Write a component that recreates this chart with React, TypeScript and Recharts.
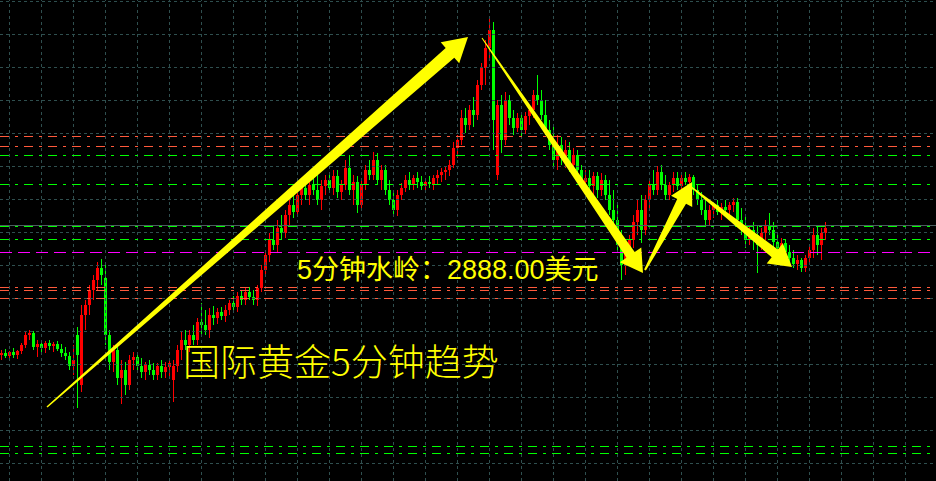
import { ComposedChart, XAxis, YAxis, Bar, ReferenceLine, ReferenceDot } from "recharts";

// 5-minute gold candles (one entry every 4px)
const opens = [
  2877.7, 2877.9, 2877.6, 2878.0, 2877.7, 2878.1, 2878.7, 2879.7, 2879.9, 2878.5,
  2878.8, 2878.4, 2878.9, 2878.6, 2878.8, 2878.3, 2877.9, 2877.6, 2876.6, 2879.7,
  2874.7, 2881.7, 2882.7, 2884.2, 2885.2, 2886.4, 2885.4, 2879.7, 2877.0, 2878.2,
  2875.4, 2876.2, 2874.7, 2877.2, 2877.5, 2876.6, 2876.0, 2876.7, 2876.2, 2875.7,
  2876.6, 2876.0, 2876.5, 2875.2, 2876.6, 2878.2, 2879.2, 2878.7, 2879.7, 2879.2,
  2881.0, 2880.7, 2880.2, 2881.7, 2881.4, 2882.0, 2881.6, 2882.2, 2882.9, 2882.5,
  2883.6, 2883.2, 2884.0, 2883.5, 2883.2, 2884.4, 2886.2, 2887.7, 2889.2, 2888.7,
  2890.4, 2889.9, 2891.7, 2892.7, 2892.0, 2893.7, 2894.4, 2893.7, 2894.7, 2894.2,
  2893.2, 2894.6, 2895.2, 2894.4, 2895.6, 2894.0, 2894.7, 2896.4, 2894.2, 2895.0,
  2892.7, 2894.7, 2896.2, 2895.7, 2897.2, 2895.2, 2896.2, 2894.2, 2893.2, 2892.2,
  2893.7, 2894.4, 2895.2, 2894.7, 2895.4, 2895.0, 2894.6, 2895.0, 2894.8, 2895.4,
  2895.7, 2896.0, 2896.2, 2896.7, 2898.4, 2899.2, 2901.4, 2900.7, 2902.2, 2901.7,
  2904.7, 2906.4, 2908.4, 2910.2, 2895.7, 2902.7, 2899.2, 2903.2, 2901.4, 2900.4,
  2901.4, 2900.2, 2901.6, 2902.2, 2903.7, 2903.2, 2901.7, 2900.2, 2898.7, 2897.2,
  2898.7, 2897.4, 2898.2, 2896.7, 2897.7, 2896.2, 2895.0, 2895.4, 2894.6, 2895.6,
  2894.2, 2895.2, 2893.7, 2892.2, 2891.2, 2888.7, 2886.7, 2888.2, 2889.2, 2891.0,
  2892.2, 2890.2, 2893.2, 2894.7, 2894.2, 2896.0, 2894.7, 2893.7, 2894.7, 2895.4,
  2894.6, 2895.4, 2895.0, 2895.5, 2894.2, 2893.2, 2892.2, 2891.2, 2892.2, 2892.7,
  2892.0, 2892.5, 2892.2, 2892.7, 2893.0, 2891.2, 2890.2, 2889.2, 2890.2, 2889.7,
  2888.7, 2889.9, 2890.7, 2890.2, 2889.0, 2888.4, 2888.9, 2888.0, 2887.4, 2886.8,
  2887.2, 2886.4, 2887.4, 2888.2, 2889.7, 2888.7, 2889.9,
];
const highs = [
  2878.2, 2878.3, 2878.1, 2878.4, 2878.2, 2878.9, 2880.0, 2880.2, 2880.1, 2879.2,
  2879.2, 2879.1, 2879.2, 2879.0, 2879.1, 2878.8, 2878.5, 2878.0, 2878.7, 2880.5,
  2882.7, 2883.2, 2884.7, 2885.7, 2887.0, 2887.3, 2886.7, 2880.2, 2878.7, 2878.7,
  2877.2, 2877.0, 2877.7, 2878.0, 2877.9, 2877.4, 2877.0, 2877.2, 2876.9, 2876.9,
  2877.2, 2877.0, 2877.2, 2877.2, 2878.7, 2880.0, 2880.2, 2880.2, 2880.7, 2881.4,
  2882.9, 2882.2, 2882.4, 2882.6, 2882.4, 2882.5, 2882.7, 2883.2, 2883.6, 2884.0,
  2884.2, 2884.4, 2884.5, 2884.2, 2884.7, 2886.7, 2888.2, 2889.9, 2890.7, 2891.2,
  2891.7, 2892.2, 2893.2, 2893.7, 2894.2, 2895.2, 2895.4, 2895.2, 2895.7, 2896.0,
  2895.2, 2895.7, 2896.0, 2896.2, 2896.2, 2895.2, 2897.2, 2897.7, 2895.7, 2895.6,
  2895.2, 2896.7, 2897.2, 2898.0, 2897.9, 2896.7, 2896.7, 2895.2, 2894.2, 2894.2,
  2894.9, 2895.7, 2896.0, 2895.7, 2896.0, 2895.6, 2895.4, 2895.6, 2895.7, 2896.2,
  2896.4, 2896.6, 2897.2, 2899.0, 2899.7, 2902.2, 2902.4, 2902.7, 2903.5, 2905.2,
  2906.9, 2909.2, 2911.4, 2911.0, 2903.2, 2903.7, 2904.0, 2903.7, 2902.2, 2901.9,
  2902.0, 2902.0, 2902.7, 2904.2, 2905.7, 2904.2, 2903.2, 2901.2, 2900.7, 2899.7,
  2899.5, 2899.2, 2899.0, 2898.4, 2898.2, 2896.7, 2896.2, 2896.2, 2896.0, 2896.0,
  2895.9, 2895.7, 2895.2, 2894.2, 2892.7, 2890.2, 2889.2, 2889.7, 2891.7, 2893.2,
  2893.7, 2893.7, 2895.2, 2896.2, 2896.6, 2896.7, 2895.7, 2895.0, 2896.0, 2896.0,
  2895.8, 2896.0, 2895.8, 2895.7, 2894.7, 2894.0, 2893.4, 2892.7, 2893.0, 2893.2,
  2892.9, 2893.2, 2893.0, 2893.4, 2893.4, 2892.4, 2891.7, 2890.7, 2891.0, 2890.7,
  2890.4, 2891.2, 2891.9, 2891.0, 2890.0, 2889.4, 2889.2, 2888.7, 2888.2, 2887.7,
  2887.4, 2887.7, 2888.7, 2890.4, 2890.7, 2890.4, 2891.0,
];
const lows = [
  2877.2, 2877.4, 2877.1, 2877.4, 2877.3, 2877.8, 2878.4, 2879.2, 2878.2, 2877.5,
  2878.0, 2877.9, 2878.2, 2878.0, 2878.1, 2877.5, 2877.2, 2876.2, 2875.7, 2872.4,
  2874.0, 2880.2, 2881.7, 2883.2, 2884.2, 2884.7, 2878.7, 2876.2, 2876.0, 2874.7,
  2872.8, 2873.7, 2874.2, 2876.2, 2876.0, 2875.4, 2875.2, 2875.7, 2875.2, 2875.2,
  2875.4, 2875.4, 2875.6, 2873.0, 2876.0, 2877.2, 2878.2, 2878.0, 2878.7, 2878.7,
  2879.7, 2879.7, 2879.4, 2880.7, 2880.8, 2881.2, 2881.0, 2881.7, 2882.0, 2882.0,
  2882.7, 2882.7, 2883.2, 2882.7, 2882.6, 2884.0, 2885.7, 2887.0, 2888.2, 2888.0,
  2889.2, 2889.4, 2890.7, 2891.4, 2891.6, 2892.7, 2893.2, 2892.7, 2893.7, 2892.7,
  2892.2, 2893.7, 2894.0, 2893.7, 2893.4, 2893.2, 2894.2, 2893.7, 2892.7, 2891.9,
  2892.4, 2894.2, 2895.2, 2895.2, 2894.7, 2894.2, 2893.7, 2892.7, 2891.7, 2891.6,
  2893.2, 2894.0, 2894.2, 2894.2, 2894.4, 2894.2, 2894.0, 2894.4, 2894.2, 2894.7,
  2895.0, 2895.2, 2895.6, 2896.4, 2897.4, 2898.7, 2899.9, 2900.2, 2900.5, 2901.2,
  2904.2, 2904.7, 2907.2, 2898.2, 2895.2, 2897.9, 2898.7, 2900.7, 2899.7, 2900.0,
  2899.5, 2899.8, 2900.7, 2901.4, 2902.7, 2901.2, 2899.7, 2898.2, 2896.5, 2896.2,
  2896.7, 2896.4, 2896.0, 2895.9, 2895.7, 2894.4, 2893.9, 2894.0, 2893.7, 2893.4,
  2893.6, 2893.2, 2891.7, 2890.5, 2888.2, 2885.2, 2885.7, 2887.0, 2888.4, 2889.7,
  2888.9, 2889.7, 2892.2, 2893.7, 2893.7, 2894.2, 2893.2, 2893.2, 2894.0, 2894.2,
  2894.2, 2894.7, 2894.4, 2893.7, 2892.7, 2891.7, 2890.5, 2890.7, 2891.4, 2891.7,
  2891.2, 2891.7, 2891.4, 2892.0, 2890.7, 2889.7, 2888.4, 2888.7, 2888.2, 2885.9,
  2888.2, 2889.2, 2889.7, 2888.4, 2888.0, 2887.7, 2887.4, 2887.0, 2886.4, 2886.2,
  2886.0, 2886.0, 2887.0, 2887.4, 2887.7, 2887.2, 2889.2,
];
const closes = [
  2877.9, 2877.6, 2878.0, 2877.7, 2878.1, 2878.7, 2879.7, 2879.9, 2878.5, 2878.8,
  2878.4, 2878.9, 2878.6, 2878.8, 2878.3, 2877.9, 2877.6, 2876.6, 2877.2, 2877.7,
  2881.7, 2882.7, 2884.2, 2885.2, 2886.4, 2885.7, 2879.7, 2877.0, 2878.2, 2875.4,
  2876.2, 2874.7, 2877.2, 2877.5, 2876.6, 2876.0, 2876.7, 2876.2, 2875.7, 2876.6,
  2876.0, 2876.5, 2876.9, 2876.6, 2878.2, 2879.2, 2878.7, 2879.7, 2879.2, 2881.0,
  2880.7, 2880.2, 2881.7, 2881.4, 2882.0, 2881.6, 2882.2, 2882.9, 2882.5, 2883.6,
  2883.2, 2884.0, 2883.5, 2883.2, 2884.4, 2886.2, 2887.7, 2889.2, 2888.7, 2890.4,
  2889.9, 2891.7, 2892.7, 2892.0, 2893.7, 2894.4, 2893.7, 2894.7, 2894.2, 2893.2,
  2894.6, 2895.2, 2894.4, 2895.6, 2894.0, 2894.7, 2896.4, 2894.2, 2895.0, 2892.7,
  2894.7, 2896.2, 2895.7, 2897.2, 2895.2, 2896.2, 2894.2, 2893.2, 2892.2, 2893.7,
  2894.4, 2895.2, 2894.7, 2895.4, 2895.0, 2894.6, 2895.0, 2894.8, 2895.4, 2895.7,
  2896.0, 2896.2, 2896.7, 2898.4, 2899.2, 2901.4, 2900.7, 2902.2, 2901.7, 2904.7,
  2906.4, 2908.4, 2910.2, 2901.2, 2902.7, 2899.2, 2903.2, 2901.4, 2900.4, 2901.4,
  2900.2, 2901.6, 2902.2, 2903.7, 2903.2, 2901.7, 2900.2, 2898.7, 2897.2, 2898.7,
  2897.4, 2898.2, 2896.7, 2897.7, 2896.2, 2895.0, 2895.4, 2894.6, 2895.6, 2894.2,
  2895.2, 2893.7, 2892.2, 2891.2, 2888.7, 2886.7, 2888.2, 2889.2, 2891.0, 2892.2,
  2890.2, 2893.2, 2894.7, 2894.2, 2896.0, 2894.7, 2893.7, 2894.7, 2895.4, 2894.6,
  2895.4, 2895.0, 2895.5, 2894.2, 2893.2, 2892.2, 2891.2, 2892.2, 2892.7, 2892.0,
  2892.5, 2892.2, 2892.7, 2893.0, 2891.2, 2890.2, 2889.2, 2890.2, 2889.2, 2888.7,
  2889.9, 2890.7, 2890.2, 2889.0, 2888.4, 2888.9, 2888.0, 2887.4, 2886.8, 2887.2,
  2886.4, 2887.4, 2888.2, 2889.7, 2888.7, 2889.9, 2890.4,
];

// horizontal levels drawn on the chart
const redLevels = [2899.55, 2898.55, 2884.45, 2884.15, 2883.35];
const greenLevels = [2897.65, 2894.75, 2890.55, 2889.25, 2868.55, 2867.85];
const pivotLevel = 2887.95;
const lastPriceLine = 2890.65;

// terminal grid
const gridPrices = [
  2913.05, 2909.75, 2906.45, 2903.15, 2899.85, 2896.55, 2893.25, 2889.95, 2886.65, 2883.35,
  2880.05, 2876.75, 2873.45, 2870.15, 2866.85,
];
const gridBars = Array.from({ length: 29 }, (_, k) => 1.875 + 8 * k);

// hand-drawn arrows: start [bar, price] -> tip [bar, price]
const arrowFrom = [[11.25, 2872.5], [120, 2909.4], [160.75, 2886.2], [172, 2894.6]];
const arrowTo = [[116.5, 2909.5], [160.25, 2885.9], [172.5, 2895.0], [197.5, 2886.5]];
const arrowStyle = [
  { w0: 1.5, w1: 13, headL: 24, headW: 28 },
  { w0: 1, w1: 10, headL: 22, headW: 26 },
  { w0: 2, w1: 10, headL: 22, headW: 24 },
  { w0: 1, w1: 10, headL: 22, headW: 26 },
];

const pivotText = "5分钟水岭：2888.00美元";
const titleText = "国际黄金5分钟趋势";

const RED = "#ff0000";
const GREEN = "#00ff00";
const YELLOW = "#ffff00";

const candles = opens.map((o, i) => ({
  idx: i,
  open: o,
  high: highs[i],
  low: lows[i],
  close: closes[i],
}));

const Candle = (props: any) => {
  const { x, y, width, height, payload } = props;
  if (!payload || height == null) return null;
  const { open, close, high, low } = payload;
  const k = high === low ? 0 : height / (high - low);
  const yo = y + (high - open) * k;
  const yc = y + (high - close) * k;
  const color = close >= open ? RED : GREEN;
  const cx = Math.round(x + width / 2);
  const top = Math.min(yo, yc);
  const bh = Math.max(1, Math.abs(yc - yo));
  return (
    <g>
      <rect x={cx - 1} y={y} width={1} height={Math.max(1, height)} fill={color} />
      <rect x={cx - 2} y={top} width={3} height={bh} fill={color} />
    </g>
  );
};

const arrowShape = (s: any) => (props: any) => {
  const { x1, y1, x2, y2 } = props;
  const len = Math.hypot(x2 - x1, y2 - y1) || 1;
  const dx = (x2 - x1) / len;
  const dy = (y2 - y1) / len;
  const nx = -dy;
  const ny = dx;
  const bx = x2 - dx * s.headL;
  const by = y2 - dy * s.headL;
  const pts = [
    [x1 + (nx * s.w0) / 2, y1 + (ny * s.w0) / 2],
    [bx + (nx * s.w1) / 2, by + (ny * s.w1) / 2],
    [bx + (nx * s.headW) / 2, by + (ny * s.headW) / 2],
    [x2, y2],
    [bx - (nx * s.headW) / 2, by - (ny * s.headW) / 2],
    [bx - (nx * s.w1) / 2, by - (ny * s.w1) / 2],
    [x1 - (nx * s.w0) / 2, y1 - (ny * s.w0) / 2],
  ];
  return <polygon points={pts.map((p) => p.join(",")).join(" ")} fill={YELLOW} />;
};

const textShape = (text: string, size: number, family: string, weight: number) => (props: any) => (
  <text x={props.cx} y={props.cy} fill={YELLOW} fontSize={size} fontFamily={family} fontWeight={weight}>
    {text}
  </text>
);

export default function App() {
  return (
    <div style={{ position: "fixed", left: 0, top: 0, width: 936, height: 481, background: "#000" }}>
      <ComposedChart
        width={936}
        height={481}
        data={candles}
        margin={{ top: 0, right: 0, bottom: 0, left: 0 }}
      >
        <XAxis dataKey="idx" type="number" domain={[-0.5, 233.5]} hide allowDataOverflow />
        <YAxis type="number" domain={[2865.1, 2913.2]} hide allowDataOverflow />

        {gridPrices.map((p) => (
          <ReferenceLine key={"gy" + p} y={p} stroke="#2f4f4f" strokeDasharray="3 3" />
        ))}
        {gridBars.map((b) => (
          <ReferenceLine key={"gx" + b} x={b} stroke="#2f4f4f" strokeDasharray="3 3" />
        ))}
        <ReferenceLine y={lastPriceLine} stroke="#4a5e5e" />
        {redLevels.map((p) => (
          <ReferenceLine key={"r" + p} y={p} stroke="#ff5a3c" strokeDasharray="9 6 3 6" />
        ))}
        {greenLevels.map((p) => (
          <ReferenceLine key={"g" + p} y={p} stroke={GREEN} strokeDasharray="9 6 3 6" />
        ))}
        <ReferenceLine y={pivotLevel} stroke="#ff00ff" strokeDasharray="12 6" />

        <Bar
          dataKey={(d: any) => [d.low, d.high]}
          barSize={4}
          shape={Candle}
          isAnimationActive={false}
        />

        {arrowFrom.map((a, i) => (
          <ReferenceLine
            key={"a" + i}
            segment={[
              { x: a[0], y: a[1] },
              { x: arrowTo[i][0], y: arrowTo[i][1] },
            ]}
            ifOverflow="visible"
            shape={arrowShape(arrowStyle[i])}
          />
        ))}

        <ReferenceDot
          x={73.75}
          y={2885.3}
          r={0}
          shape={textShape(pivotText, 27, "'Liberation Sans', 'Noto Sans CJK SC', sans-serif", 400)}
        />
        <ReferenceDot
          x={45.25}
          y={2875.6}
          r={0}
          shape={textShape(titleText, 37, "'Noto Sans CJK SC', sans-serif", 300)}
        />
      </ComposedChart>
    </div>
  );
}
